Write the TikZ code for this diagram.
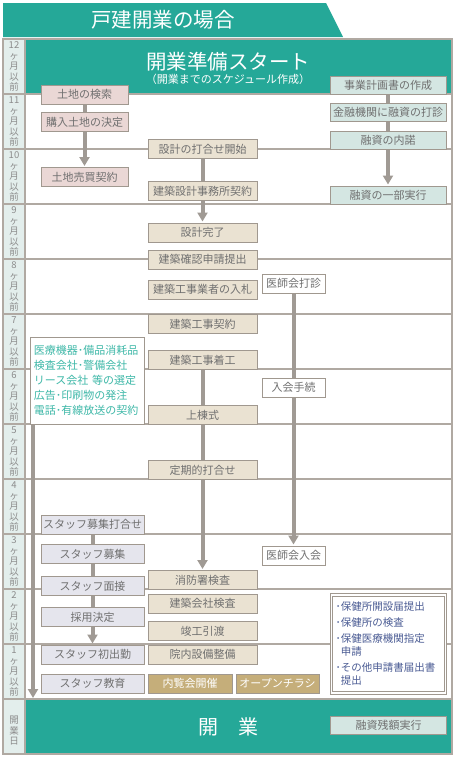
\documentclass[tikz,border=0pt]{standalone}
\usepackage{fontspec}
\setmainfont{Noto Sans CJK JP}
\usepackage{tikz}
\usetikzlibrary{arrows.meta,positioning}
\definecolor{Teal}{HTML}{25A898}
\definecolor{Rule}{HTML}{B0A9A2}
\definecolor{Edge}{HTML}{A0988F}
\definecolor{Txt}{HTML}{707070}
\definecolor{Label}{HTML}{8C8C8C}
\definecolor{LabelBg}{HTML}{E3EEEC}
\definecolor{LandSoft}{HTML}{EAD7D5}
\definecolor{LoanSoft}{HTML}{D4E6E2}
\definecolor{BuildSoft}{HTML}{EAE2D2}
\definecolor{StaffSoft}{HTML}{E5E5ED}
\definecolor{Gold}{HTML}{C5AE7A}
\definecolor{Pipe}{HTML}{A09A94}
\definecolor{MedText}{HTML}{3EB8A8}
\definecolor{Navy}{HTML}{4B5C94}
\tikzset{
  sched/.style={draw=Edge,line width=1pt,minimum height=19pt,inner sep=0pt,font=\fontsize{11}{13}\selectfont,text=Txt},
  schedland/.style={sched,fill=LandSoft,minimum width=87pt},
  schedloan/.style={sched,fill=LoanSoft,minimum width=116pt,minimum height=18pt},
  schedbuild/.style={sched,fill=BuildSoft,minimum width=109pt},
  schedstaff/.style={sched,fill=StaffSoft,minimum width=103pt},
  schedassoc/.style={sched,fill=white,minimum width=63pt},
  schedevent/.style={sched,fill=Gold,text=white,minimum width=84pt},
  gridline/.style={draw=Rule,line width=1.2pt},
  monthlabel/.style={align=center,inner sep=0pt,text=Label,font=\fontsize{9.5}{10.5}\selectfont},
  pipe/.style={line width=4pt,draw=Pipe},
  pipeArrow/.style={pipe,-{Triangle[width=10pt,length=9pt]},shorten >=1pt}
}
\begin{document}
\begin{tikzpicture}[x=1pt,y=-1pt]
  \useasboundingbox (0,0) rectangle (455,758);
  % title banner
  \fill[Teal] (3,3) -- (326,3) -- (343,37) -- (3,37) -- cycle;
  \node[text=white,font=\fontsize{20.5}{22}\selectfont] (title) at (163,20) {戸建開業の場合};
  % grid
  \fill[LabelBg] (3,39) rectangle (25,754);
  \fill[Teal] (25,39) rectangle (452,94);
  \fill[Teal] (25,699) rectangle (452,754);
  \draw[gridline] (3,94) -- (452,94) (3,149) -- (452,149) (3,204) -- (452,204) (3,259) -- (452,259) (3,314) -- (452,314) (3,369) -- (452,369) (3,424) -- (452,424);
  \draw[gridline] (3,479) -- (452,479) (3,534) -- (452,534) (3,589) -- (452,589) (3,644) -- (452,644) (3,699) -- (452,699);
  \draw[gridline] (3,39) rectangle (452,754) (25,39) -- (25,754);
  % month labels
  \node[monthlabel] (m12) at (14,66.5) {12\\ヶ\\月\\以\\前};
  \node[monthlabel] (m11) at (14,121.5) {11\\ヶ\\月\\以\\前};
  \node[monthlabel] (m10) at (14,176.5) {10\\ヶ\\月\\以\\前};
  \node[monthlabel] (m9) at (14,231.5) {9\\ヶ\\月\\以\\前};
  \node[monthlabel] (m8) at (14,286.5) {8\\ヶ\\月\\以\\前};
  \node[monthlabel] (m7) at (14,341.5) {7\\ヶ\\月\\以\\前};
  \node[monthlabel] (m6) at (14,396.5) {6\\ヶ\\月\\以\\前};
  \node[monthlabel] (m5) at (14,451.5) {5\\ヶ\\月\\以\\前};
  \node[monthlabel] (m4) at (14,506.5) {4\\ヶ\\月\\以\\前};
  \node[monthlabel] (m3) at (14,561.5) {3\\ヶ\\月\\以\\前};
  \node[monthlabel] (m2) at (14,616.5) {2\\ヶ\\月\\以\\前};
  \node[monthlabel] (m1) at (14,671.5) {1\\ヶ\\月\\以\\前};
  \node[monthlabel] (m0) at (14,731) {開\\業\\日};
  % start / opening
  \node[text=white,font=\fontsize{20.5}{22}\selectfont] (start) at (228,62) {開業準備スタート};
  \node[text=white,font=\fontsize{11}{13}\selectfont] (startsub) at (228,79) {（開業までのスケジュール作成）};
  \node[text=white,font=\fontsize{20}{22}\selectfont] (open) at (228,727) {開\quad 業};
  % land
  \node[schedland] (land1) at (84.5,94.5) {土地の検索};
  \node[schedland] (land2) at (84.5,122) {購入土地の決定};
  \node[schedland] (land3) at (84.5,177) {土地売買契約};
  % loan
  \node[schedloan] (loan1) at (388,85) {事業計画書の作成};
  \node[schedloan] (loan2) at (388,112.5) {金融機関に融資の打診};
  \node[schedloan] (loan3) at (388,140) {融資の内諾};
  \node[schedloan] (loan4) at (388,195) {融資の一部実行};
  \node[schedloan] (loan5) at (388.5,725.5) {融資残額実行};
  % building
  \node[schedbuild] (bld1) at (202.5,149) {設計の打合せ開始};
  \node[schedbuild] (bld2) at (202.5,191) {建築設計事務所契約};
  \node[schedbuild] (bld3) at (202.5,232.5) {設計完了};
  \node[schedbuild] (bld4) at (202.5,259.5) {建築確認申請提出};
  \node[schedbuild] (bld5) at (202.5,289.5) {建築工事業者の入札};
  \node[schedbuild] (bld6) at (202.5,324) {建築工事契約};
  \node[schedbuild] (bld7) at (202.5,360) {建築工事着工};
  \node[schedbuild] (bld8) at (202.5,415) {上棟式};
  \node[schedbuild] (bld9) at (202.5,470) {定期的打合せ};
  \node[schedbuild] (bld10) at (202.5,580) {消防署検査};
  \node[schedbuild] (bld11) at (202.5,603.5) {建築会社検査};
  \node[schedbuild] (bld12) at (202.5,631) {竣工引渡};
  \node[schedbuild] (bld13) at (202.5,654.5) {院内設備整備};
  \node[schedevent] (ev1) at (190,683.5) {内覧会開催};
  \node[schedevent,minimum width=83pt] (ev2) at (277.5,683.5) {オープンチラシ};
  % staff
  \node[schedstaff] (stf1) at (92.5,524.5) {スタッフ募集打合せ};
  \node[schedstaff] (stf2) at (92.5,554) {スタッフ募集};
  \node[schedstaff] (stf3) at (92.5,586) {スタッフ面接};
  \node[schedstaff] (stf4) at (92.5,617) {採用決定};
  \node[schedstaff] (stf5) at (92.5,654.5) {スタッフ初出勤};
  \node[schedstaff] (stf6) at (92.5,683.5) {スタッフ教育};
  % medical association
  \node[schedassoc] (doc1) at (293.5,283.5) {医師会打診};
  \node[schedassoc] (doc2) at (293.5,387.5) {入会手続};
  \node[schedassoc] (doc3) at (293.5,555.5) {医師会入会};
  % selection memo and filings
  \node[draw=Edge,line width=1pt,fill=white,text=MedText,text width=106pt,inner xsep=4pt,minimum height=87pt,align=left,font=\fontsize{11}{15}\selectfont] (med) at (87,380.5)
    {医療機器･備品消耗品\\検査会社･警備会社\\リース会社 等の選定\\広告･印刷物の発注\\電話･有線放送の契約};
  \node[draw=Edge,line width=0.8pt,double=white,double distance=1.5pt,fill=white,text=Navy,text width=106pt,inner xsep=4pt,minimum height=98pt,align=left,font=\fontsize{10.5}{13}\selectfont] (filing) at (388.5,644)
    {･保健所開設届提出\\[3pt]･保健所の検査\\[3pt]･保健医療機関指定\\\phantom{･}申請\\[3pt]･その他申請書届出書\\\phantom{･}提出};
  \coordinate (medend) at (33,699);
  % connectors
  \draw[pipe] (land1) -- (land2); \draw[pipeArrow] (land2) -- (land3);
  \draw[pipe] (loan1) -- (loan2); \draw[pipe] (loan2) -- (loan3); \draw[pipeArrow] (loan3) -- (loan4);
  \draw[pipe] (bld1) -- (bld2); \draw[pipeArrow] (bld2) -- (bld3);
  \draw[pipe] (bld7) -- (bld8); \draw[pipe] (bld8) -- (bld9); \draw[pipeArrow] (bld9) -- (bld10);
  \draw[pipe] (stf1) -- (stf2); \draw[pipe] (stf2) -- (stf3); \draw[pipe] (stf3) -- (stf4); \draw[pipeArrow] (stf4) -- (stf5);
  \draw[pipe] (doc1) -- (doc2); \draw[pipeArrow] (doc2) -- (doc3);
  \draw[pipeArrow] (med.south -| medend) -- (medend);
\end{tikzpicture}
\end{document}
